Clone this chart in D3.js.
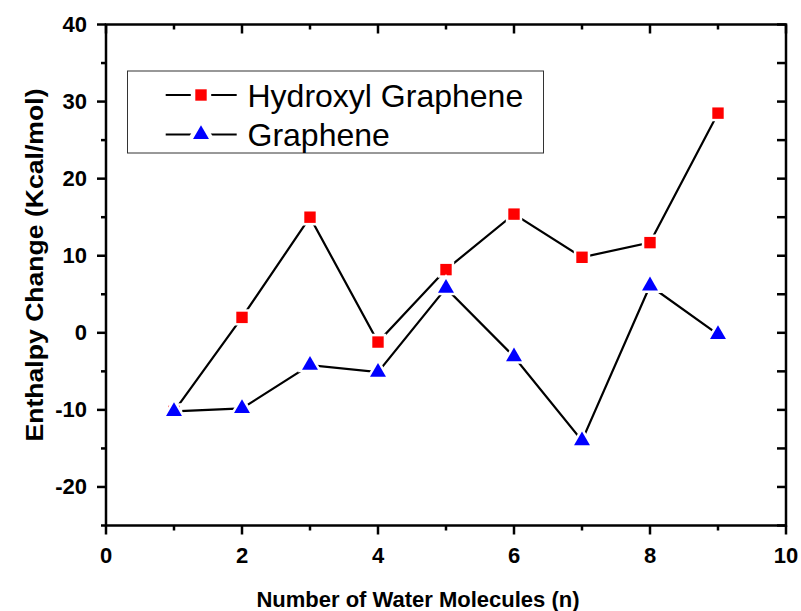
<!DOCTYPE html>
<html>
<head>
<meta charset="utf-8">
<script src="https://cdn.jsdelivr.net/npm/d3@7/dist/d3.min.js"></script>
<style>
  body { margin: 0; background: #fff; }
  text { font-family: "Liberation Sans", Arial, sans-serif; }
</style>
</head>
<body>
<div id="chart"></div>
<script>
// chart data
var waterCount = [1, 2, 3, 4, 5, 6, 7, 8, 9];
var hydroxylGraphene = [-10.2, 2.0, 15.0, -1.2, 8.2, 15.4, 9.8, 11.7, 28.5];
var graphene = [-10.2, -9.8, -4.2, -5.1, 5.8, -3.1, -14.0, 6.1, -0.2];
var xTicks = [0, 2, 4, 6, 8, 10];
var yTicks = [-20, -10, 0, 10, 20, 30, 40];
var seriesNames = ['Hydroxyl Graphene', 'Graphene'];

var width = 801,
    height = 611,
    plot = { left: 106, top: 24.5, right: 786, bottom: 525.5 };

var svg = d3.select('#chart').append('svg')
    .attr('width', width)
    .attr('height', height);

//scales
var xScale = d3.scaleLinear().domain([0, 10]).range([plot.left, plot.right]);
var yScale = d3.scaleLinear().domain([-25, 40]).range([plot.bottom, plot.top]);

var xMinor = d3.range(1, 10, 2),
    yMinor = d3.range(-25, 40, 10);

//draws ticks for one side of the frame
var drawTicks = function (g, values, side, len) {
    g.selectAll(null)
        .data(values)
        .enter().append('line')
        .attr('x1', function (d) { return side === 'bottom' || side === 'top' ? xScale(d) : (side === 'left' ? plot.left : plot.right); })
        .attr('x2', function (d) {
            if (side === 'bottom' || side === 'top') return xScale(d);
            return side === 'left' ? plot.left - len : plot.right - len;
        })
        .attr('y1', function (d) { return side === 'left' || side === 'right' ? yScale(d) : (side === 'bottom' ? plot.bottom : plot.top); })
        .attr('y2', function (d) {
            if (side === 'left' || side === 'right') return yScale(d);
            return side === 'bottom' ? plot.bottom + len : plot.top + len;
        })
        .attr('stroke', '#000')
        .attr('stroke-width', 2.5);
};

var axisG = svg.append('g');
drawTicks(axisG, xTicks, 'bottom', 9);
drawTicks(axisG, xMinor, 'bottom', 5);
drawTicks(axisG, yTicks, 'left', 9);
drawTicks(axisG, yMinor, 'left', 5);
drawTicks(axisG, xTicks, 'top', 9);
drawTicks(axisG, xMinor, 'top', 5);
drawTicks(axisG, yTicks, 'right', 9);
drawTicks(axisG, yMinor, 'right', 9);

//frame
axisG.append('rect')
    .attr('x', plot.left)
    .attr('y', plot.top)
    .attr('width', plot.right - plot.left)
    .attr('height', plot.bottom - plot.top)
    .attr('fill', 'none')
    .attr('stroke', '#000')
    .attr('stroke-width', 2.5);

//tick labels
axisG.selectAll('.x-label')
    .data(xTicks)
    .enter().append('text')
    .attr('class', 'x-label')
    .attr('x', function (d) { return xScale(d); })
    .attr('y', 562.5)
    .attr('text-anchor', 'middle')
    .attr('font-size', 22)
    .attr('font-weight', 'bold')
    .text(function (d) { return d; });

axisG.selectAll('.y-label')
    .data(yTicks)
    .enter().append('text')
    .attr('class', 'y-label')
    .attr('x', 87)
    .attr('y', function (d) { return yScale(d) + 7.5; })
    .attr('text-anchor', 'end')
    .attr('font-size', 22)
    .attr('font-weight', 'bold')
    .text(function (d) { return d; });

//axis titles
svg.append('text')
    .attr('x', 418)
    .attr('y', 606.5)
    .attr('text-anchor', 'middle')
    .attr('font-size', 22)
    .attr('font-weight', 'bold')
    .text('Number of Water Molecules (n)');

svg.append('text')
    .attr('transform', 'translate(42.5,265) rotate(-90)')
    .attr('text-anchor', 'middle')
    .attr('font-size', 23)
    .attr('font-weight', 'bold')
    .attr('textLength', 353)
    .attr('lengthAdjust', 'spacingAndGlyphs')
    .text('Enthalpy Change (Kcal/mol)');

//series lines and markers
var line = d3.line()
    .x(function (d, i) { return xScale(waterCount[i]); })
    .y(function (d) { return yScale(d); });

var squareF = d3.symbol().type(d3.symbolSquare).size(130);
var triangleF = d3.symbol().type(d3.symbolTriangle).size(110);

var series = [
    { name: seriesNames[0], values: hydroxylGraphene, color: '#ff0000', symbol: squareF },
    { name: seriesNames[1], values: graphene, color: '#0000ff', symbol: triangleF }
];

var diagramG = svg.append('g');

series.forEach(function (s) {
    diagramG.append('path')
        .attr('d', line(s.values))
        .attr('fill', 'none')
        .attr('stroke', '#000')
        .attr('stroke-width', 2.2);
});

series.forEach(function (s) {
    diagramG.selectAll(null)
        .data(s.values)
        .enter().append('path')
        .attr('d', s.symbol)
        .attr('transform', function (d, i) { return 'translate(' + xScale(waterCount[i]) + ',' + yScale(d) + ')'; })
        .attr('fill', s.color)
        .attr('stroke', '#fff')
        .attr('stroke-width', 5)
        .attr('paint-order', 'stroke');
});

//legend
var legendG = svg.append('g');
legendG.append('rect')
    .attr('x', 127.5)
    .attr('y', 71)
    .attr('width', 416)
    .attr('height', 82)
    .attr('fill', '#fff')
    .attr('stroke', '#333')
    .attr('stroke-width', 1);

series.forEach(function (s, i) {
    var cy = 95 + i * 39.5;
    legendG.append('line')
        .attr('x1', 165.7).attr('x2', 236.7)
        .attr('y1', cy).attr('y2', cy)
        .attr('stroke', '#000')
        .attr('stroke-width', 2);
    legendG.append('path')
        .attr('d', s.symbol)
        .attr('transform', 'translate(201,' + cy + ')')
        .attr('fill', s.color)
        .attr('stroke', '#fff')
        .attr('stroke-width', 9)
        .attr('paint-order', 'stroke');
    legendG.append('text')
        .attr('x', 247.5)
        .attr('y', cy + 11.5)
        .attr('font-size', 32)
        .text(s.name);
});
</script>
</body>
</html>
